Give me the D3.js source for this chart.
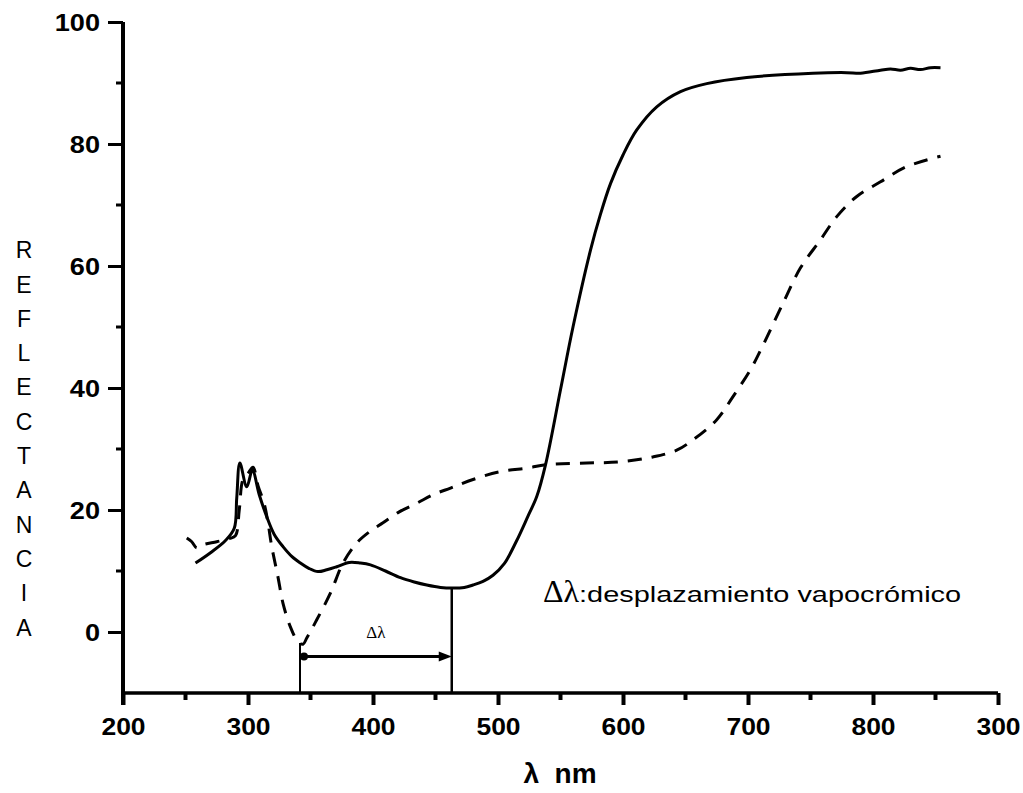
<!DOCTYPE html>
<html>
<head>
<meta charset="utf-8">
<script src="https://cdn.jsdelivr.net/npm/d3@7"></script>
<style>
  body { margin: 0; background: #fff; }
  svg { display: block; }
</style>
</head>
<body>
<svg id="chart" width="1023" height="793"></svg>
<script>
// ---- data ----
const solidX = [258,270,282,289,291,293.5,299,303.5,309,315,321,328,335,342,349,356,363,371,381,390,398,410,422,433,443,454,464,473,480,488,496,505,515,524,531,538,550,560,574,582,590,600,611,627,646,667,699,752,779,790,806,814,822,830,838,846,854];
const solidY = [11.3,13.0,15.0,17.0,22,27.7,23.8,26.5,22.5,18.9,16.0,14.0,12.4,11.3,10.4,9.9,10.2,10.7,11.4,11.3,11.0,10.0,8.9,8.2,7.7,7.3,7.2,7.3,7.7,8.3,9.3,11.2,15,19,22.2,27.4,39.7,50,62.6,68.5,73.5,78.2,82.3,86.1,88.6,89.9,90.9,91.6,91.7,91.6,92.1,92.3,92.1,92.4,92.2,92.5,92.5];

const dashX = [251,255,259,264,275,285,290,293,296,300,304,308,313,316,319,324,328,334,340,344,347,355,366,376,387,397,408,421,435,448,462,480,502,524,538,571,598,624,643,656,675,688,702,712,728,742,758,771,787,806,827,854];
const dashY = [15.4,14.8,13.8,14.3,14.8,15.3,15.8,20,25,26,27,24,21,17.9,14,9,4.7,0.8,-1.6,-2.0,-1.0,2.0,6.4,11.3,14.6,16.4,17.9,19.7,21.1,22.5,23.6,25.0,26.3,26.9,27.4,27.7,27.9,28.7,29.8,31.5,34.8,38.6,43,47,53.9,59.7,64.3,68.1,71.4,73.8,76.3,78.0];

const xTicks = [200,300,400,500,600,700,800,900];
const xTickLabels = ["200","300","400","500","600","700","800","300"];
const yTicks = [0,20,40,60,80,100];
const yTickLabels = ["0","20","40","60","80","100"];
const yTitleLetters = ["R","E","F","L","E","C","T","A","N","C","I","A"];

const deltaStart = 341.6;   // nm
const deltaEnd = 463;       // nm
const deltaArrowY = -4;     // reflectance
const deltaTopLeft = -1.8;
const deltaTopRight = 7.2;
const annotation = "desplazamiento vapocrómico";

// ---- scales ----
const svg = d3.select("#chart");
const x = d3.scaleLinear().domain([200, 900]).range([123, 998]);
const y = d3.scaleLinear().domain([-10, 100]).range([693, 22]);

const ink = "#000";

function stretch(sel, f) {
  sel.each(function() {
    const len = this.getComputedTextLength();
    d3.select(this).attr("textLength", len * f).attr("lengthAdjust", "spacingAndGlyphs");
  });
}

// ---- axes ----
const xAxis = d3.axisBottom(x).tickValues(xTicks).tickSize(12).tickFormat((d,i) => xTickLabels[i]);
const gx = svg.append("g").attr("transform", `translate(0,${y(-10)})`).call(xAxis);
gx.select(".domain").attr("stroke-width", 3.5).attr("d", `M${x(200)},0H${x(900)}`);
gx.selectAll(".tick line").attr("stroke-width", 4);
gx.selectAll(".tick text").attr("dy", 0).attr("y", 42)
  .attr("font-family", "Liberation Sans, Arial, sans-serif").attr("font-weight", "bold").attr("font-size", 23).attr("fill", ink);
stretch(gx.selectAll(".tick text"), 1.15);
svg.append("g").selectAll("line").data(d3.range(250, 900, 100)).join("line")
  .attr("x1", d => x(d)).attr("x2", d => x(d)).attr("y1", y(-10)).attr("y2", y(-10) + 7)
  .attr("stroke", ink).attr("stroke-width", 4);

const yAxis = d3.axisLeft(y).tickValues(yTicks).tickSize(15).tickFormat((d,i) => yTickLabels[i]);
const gy = svg.append("g").attr("transform", `translate(${x(200)},0)`).call(yAxis);
gy.select(".domain").attr("stroke-width", 4).attr("d", `M0,${y(-10)+12}V${y(100)}`);
gy.selectAll(".tick line").attr("stroke-width", 3);
gy.selectAll(".tick text").attr("x", -23).attr("dy", "0.36em")
  .attr("font-family", "Liberation Sans, Arial, sans-serif").attr("font-weight", "bold").attr("font-size", 23).attr("fill", ink);
stretch(gy.selectAll(".tick text"), 1.18);
svg.append("g").selectAll("line").data(d3.range(10, 100, 20)).join("line")
  .attr("x1", x(200) - 7).attr("x2", x(200)).attr("y1", d => y(d)).attr("y2", d => y(d))
  .attr("stroke", ink).attr("stroke-width", 3);

// ---- curves ----
const line = d3.line().x(d => x(d[0])).y(d => y(d[1])).curve(d3.curveCatmullRom.alpha(0.5));
svg.append("path").datum(solidX.map((v,i) => [v, solidY[i]]))
  .attr("d", line).attr("fill", "none").attr("stroke", ink).attr("stroke-width", 3)
  .attr("stroke-linejoin", "round");
svg.append("path").datum(dashX.map((v,i) => [v, dashY[i]]))
  .attr("d", line).attr("fill", "none").attr("stroke", ink).attr("stroke-width", 3)
  .attr("stroke-dasharray", "14,10");

// ---- delta lambda marker ----
svg.append("line").attr("x1", x(deltaStart)).attr("x2", x(deltaStart))
  .attr("y1", y(deltaTopLeft)).attr("y2", y(-10)).attr("stroke", ink).attr("stroke-width", 2);
svg.append("line").attr("x1", x(deltaEnd)).attr("x2", x(deltaEnd))
  .attr("y1", y(deltaTopRight)).attr("y2", y(-10)).attr("stroke", ink).attr("stroke-width", 2.5);
svg.append("line").attr("x1", x(deltaStart) + 3).attr("x2", x(deltaEnd) - 10)
  .attr("y1", y(deltaArrowY)).attr("y2", y(deltaArrowY)).attr("stroke", ink).attr("stroke-width", 3);
svg.append("path")
  .attr("d", `M${x(deltaEnd)},${y(deltaArrowY)}l-13,-5v10z`).attr("fill", ink);
svg.append("circle").attr("cx", x(deltaStart) + 4).attr("cy", y(deltaArrowY)).attr("r", 4).attr("fill", ink);
svg.append("text").attr("x", x((deltaStart + deltaEnd) / 2)).attr("y", y(0) + 6)
  .attr("text-anchor", "middle").attr("font-family", "Liberation Serif, Times New Roman, serif")
  .attr("font-size", 17).attr("fill", ink).text("Δλ");

// ---- annotation ----
const ann = svg.append("text").attr("x", 543).attr("y", 602).attr("fill", ink);
ann.append("tspan").attr("font-family", "Liberation Serif, Times New Roman, serif").attr("font-size", 32).text("Δλ");
ann.append("tspan").attr("font-family", "Liberation Sans, Arial, sans-serif").attr("font-size", 22).text(":" + annotation);
(function(){
  const t = ann.selectAll("tspan").nodes()[1];
  d3.select(t).attr("textLength", 382).attr("lengthAdjust", "spacingAndGlyphs");
})();

// ---- axis titles ----
svg.append("text").attr("x", 560).attr("y", 783).attr("text-anchor", "middle")
  .attr("font-family", "Liberation Sans, Arial, sans-serif").attr("font-weight", "bold")
  .attr("font-size", 28).attr("fill", ink).attr("xml:space", "preserve").text("λ  nm");

svg.append("g").selectAll("text").data(yTitleLetters).join("text")
  .attr("x", 24).attr("y", (d,i) => 250 + i * 34.3).attr("dy", "0.36em")
  .attr("text-anchor", "middle").attr("font-family", "Liberation Sans, Arial, sans-serif")
  .attr("font-size", 23).attr("fill", ink).text(d => d);
</script>
</body>
</html>
